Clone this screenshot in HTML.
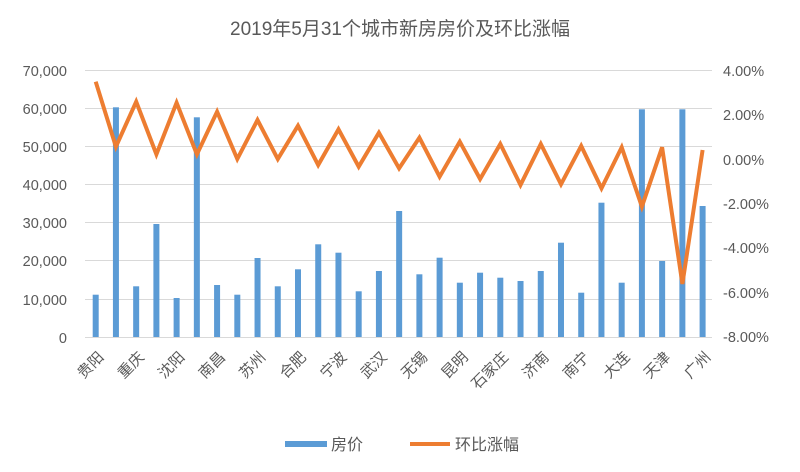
<!DOCTYPE html>
<html><head><meta charset="utf-8"><style>
html,body{margin:0;padding:0;background:#fff;}
svg text{font-family:"Liberation Sans","Noto Sans CJK SC",sans-serif;fill:#595959;}
</style></head><body>
<svg width="800" height="467" viewBox="0 0 800 467" xmlns="http://www.w3.org/2000/svg">
<text x="400" y="35" font-size="19" text-anchor="middle">2019年5月31个城市新房房价及环比涨幅</text>
<g stroke="#d9d9d9" stroke-width="1">
<line x1="85" x2="712" y1="70.5" y2="70.5"/><line x1="85" x2="712" y1="108.5" y2="108.5"/>
<line x1="85" x2="712" y1="146.5" y2="146.5"/><line x1="85" x2="712" y1="184.5" y2="184.5"/>
<line x1="85" x2="712" y1="222.5" y2="222.5"/><line x1="85" x2="712" y1="260.5" y2="260.5"/>
<line x1="85" x2="712" y1="299.5" y2="299.5"/><line x1="85" x2="712" y1="337.5" y2="337.5"/>
</g>
<g font-size="14.5" text-anchor="end">
<text x="67" y="76">70,000</text><text x="67" y="114">60,000</text><text x="67" y="152">50,000</text>
<text x="67" y="190">40,000</text><text x="67" y="228">30,000</text><text x="67" y="266">20,000</text>
<text x="67" y="305">10,000</text><text x="67" y="343">0</text>
</g>
<g font-size="14.5" text-anchor="start">
<text x="723" y="76">4.00%</text><text x="723" y="120">2.00%</text><text x="723" y="165">0.00%</text>
<text x="723" y="209">-2.00%</text><text x="723" y="253">-4.00%</text><text x="723" y="298">-6.00%</text>
<text x="723" y="342">-8.00%</text>
</g>
<g fill="#5b9bd5" id="bars"></g>
<polyline id="line" fill="none" stroke="#ed7d31" stroke-width="4" stroke-linejoin="miter"/>
<g id="labels" font-size="15" style="fill:#7f7f7f"></g>
<rect x="285" y="441" width="42" height="6" fill="#5b9bd5"/>
<text x="331" y="450" font-size="16">房价</text>
<line x1="410" x2="450" y1="444" y2="444" stroke="#ed7d31" stroke-width="4"/>
<text x="455" y="450" font-size="16">环比涨幅</text>
<script>
var tops=[294.7,107.3,286.3,224,298,117.3,285,294.7,258,286.3,269.3,244.3,252.7,291.3,271,211,274.3,257.7,282.7,272.7,277.7,281,271,242.7,292.7,202.7,282.7,109.3,261,109.3,206];
var ly=[81.7,146.7,101.7,154.3,102.7,154.3,111.7,159,120,159,125.7,165,129.3,166.7,132.7,168.3,137.7,176.7,141.7,179,144,185,144,184.3,146,188.3,147.3,206.7,147.3,284,150];
var names=["贵阳","重庆","沈阳","南昌","苏州","合肥","宁波","武汉","无锡","昆明","石家庄","济南","南宁","大连","天津","广州"];
var ns="http://www.w3.org/2000/svg",b=document.getElementById("bars"),pts=[];
for(var i=0;i<31;i++){var x=95.7+20.23*i;var r=document.createElementNS(ns,"rect");
r.setAttribute("x",x-3);r.setAttribute("y",tops[i]);r.setAttribute("width",6);r.setAttribute("height",337-tops[i]);b.appendChild(r);
pts.push(x.toFixed(1)+","+ly[i]);}
document.getElementById("line").setAttribute("points",pts.join(" "));
var L=document.getElementById("labels");
for(var j=0;j<16;j++){var x=95.7+20.23*2*j+9;var t=document.createElementNS(ns,"text");
t.setAttribute("text-anchor","end");t.setAttribute("transform","translate("+x+",358) rotate(-45)");t.textContent=names[j];L.appendChild(t);}
</script>
</svg>
</body></html>
